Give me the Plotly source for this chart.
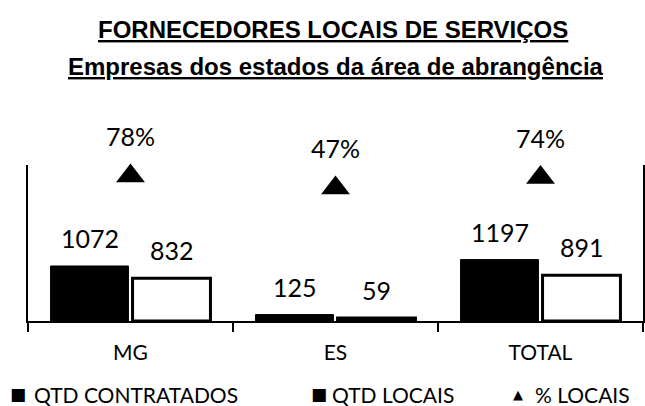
import plotly.graph_objects as go

# Data
categories = ["MG", "ES", "TOTAL"]
qtd_contratados = [1072, 125, 1197]
qtd_locais = [832, 59, 891]
pct_locais = [78, 47, 74]
series_names = ["QTD CONTRATADOS", "QTD LOCAIS", "% LOCAIS"]
legend_symbols = ["■", "■", "▲"]

LABEL_FONT = "Lato, 'Open Sans', sans-serif"
TITLE_FONT = "'Liberation Sans', Arial, sans-serif"

W, H = 645, 406
M_L, M_R, M_T, M_B = 28, 2, 165, 85
plot_w = W - M_L - M_R
plot_h = H - M_T - M_B


def px(x_pixel):
    return (x_pixel - M_L) / plot_w


def py(y_pixel):
    return (H - M_B - y_pixel) / plot_h


fig = go.Figure()

fig.add_trace(go.Bar(
    x=categories, y=qtd_contratados, name=series_names[0],
    marker=dict(color="black", line=dict(color="black", width=1)),
))
fig.add_trace(go.Bar(
    x=categories, y=qtd_locais, name=series_names[1],
    marker=dict(color="white", line=dict(color="black", width=3)),
))
fig.add_trace(go.Scatter(
    x=categories, y=pct_locais, name=series_names[2], yaxis="y2",
    mode="markers",
    marker=dict(symbol="triangle-up", size=25, color="black"),
    cliponaxis=False,
))

num_font = dict(family=LABEL_FONT, size=25, color="black")
annotations = []
# value labels over the bars
for i, (a, b) in enumerate(zip(qtd_contratados, qtd_locais)):
    annotations.append(dict(x=i - 0.2, y=a, xref="x", yref="y", text=str(a),
                            showarrow=False, yanchor="middle", yshift=28, font=num_font))
    annotations.append(dict(x=i + 0.2, y=b, xref="x", yref="y", text=str(b),
                            showarrow=False, yanchor="middle", yshift=28, font=num_font))
# percentage labels over the triangles
for i, p in enumerate(pct_locais):
    annotations.append(dict(x=i, y=p, xref="x", yref="y2", text=f"{p}%",
                            showarrow=False, yanchor="middle", yshift=40, font=num_font))

# titles
annotations.append(dict(x=px(333), y=py(29), xref="paper", yref="paper",
                        text="<b><u>FORNECEDORES LOCAIS DE SERVIÇOS</u></b>",
                        showarrow=False, yanchor="middle",
                        font=dict(family=TITLE_FONT, size=24, color="black")))
annotations.append(dict(x=px(336), y=py(66), xref="paper", yref="paper",
                        text="<b><u>Empresas dos estados da área de abrangência</u></b>",
                        showarrow=False, yanchor="middle",
                        font=dict(family=TITLE_FONT, size=24, color="black")))

# legend row: symbol + series name
legend_symbol_x = [18, 319, 518]
legend_text_x = [32, 330, 533]
for sym, name, sx, tx in zip(legend_symbols, series_names, legend_symbol_x, legend_text_x):
    annotations.append(dict(x=px(sx), y=py(394), xref="paper", yref="paper",
                            text=sym, showarrow=False, xanchor="center", yanchor="middle",
                            font=dict(family="'DejaVu Sans'", size=17 if sym == "■" else 13,
                                      color="black")))
    annotations.append(dict(x=px(tx), y=py(394), xref="paper", yref="paper",
                            text=name, showarrow=False, xanchor="left", yanchor="middle",
                            font=dict(family=LABEL_FONT, size=21, color="black")))

fig.update_layout(
    width=W, height=H,
    margin=dict(l=M_L, r=M_R, t=M_T, b=M_B),
    paper_bgcolor="white", plot_bgcolor="white",
    barmode="group", bargap=0.2, bargroupgap=0.05,
    showlegend=False,
    xaxis=dict(
        type="category", showline=True, linecolor="black", linewidth=2,
        ticks="outside", tickson="boundaries", ticklen=9, tickcolor="black", tickwidth=2,
        tickfont=dict(family=LABEL_FONT, size=21, color="black"),
        ticklabelstandoff=12,
        showgrid=False, zeroline=False, range=[-0.5, 2.5],
    ),
    yaxis=dict(
        range=[0, 3040], showline=True, linecolor="black", linewidth=2,
        showticklabels=False, showgrid=False, zeroline=False, ticks="",
    ),
    yaxis2=dict(
        overlaying="y", side="right", range=[-297, 106.4],
        showline=True, linecolor="black", linewidth=2,
        showticklabels=False, showgrid=False, zeroline=False, ticks="",
    ),
    annotations=annotations,
)

fig.write_html("out.html")
